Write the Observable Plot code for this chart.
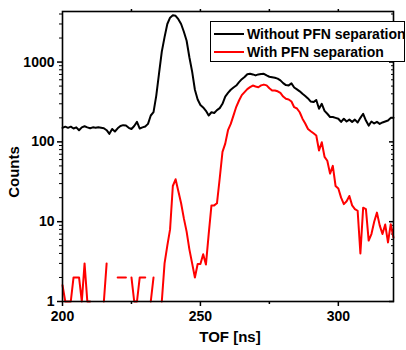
<!DOCTYPE html>
<html>
<head>
<meta charset="utf-8">
<script src="https://cdn.jsdelivr.net/npm/d3@7"></script>
<script src="https://cdn.jsdelivr.net/npm/@observablehq/plot@0.6"></script>
<style>
  html, body { margin: 0; padding: 0; background: #fff; }
  #wrap { position: relative; width: 406px; height: 350px; font-family: "Liberation Sans", Arial, sans-serif; }
  #legend { position: absolute; left: 210px; top: 21px; width: 193px; height: 39px; border: 1px solid #000; background: #fff; font-weight: bold; font-size: 14px; color: #000; }
  #legend .sw { position: absolute; left: 3px; width: 30px; height: 2px; }
  #legend .lb { position: absolute; left: 36px; line-height: 16px; white-space: nowrap; }
  .title { position: absolute; font-weight: bold; font-size: 15px; line-height: 15px; color: #000; white-space: nowrap; }
</style>
</head>
<body>
<div id="wrap"></div>
<script>
// TOF grid (ns)
const tof = [200,201,202,203,204,205,206,207,208,209,210,211,212,213,214,215,216,217,218,219,
220,221,222,223,224,225,226,227,228,229,230,231,232,233,234,235,236,237,238,239,
240,241,242,243,244,245,246,247,248,249,250,251,252,253,254,255,256,257,258,259,
260,261,262,263,264,265,266,267,268,269,270,271,272,273,274,275,276,277,278,279,
280,281,282,283,284,285,286,287,288,289,290,291,292,293,294,295,296,297,298,299,
300,301,302,303,304,305,306,307,308,309,310,311,312,313,314,315,316,317,318,319,320];

// Without PFN separation (black)
const withoutPFN = [150,155,150,155,147,152,140,152,157,152,148,152,150,152,150,148,140,126,145,135,
148,158,162,160,150,145,158,178,147,152,156,168,214,236,380,720,1350,2050,3000,3600,
3850,3800,3450,3000,2400,1850,1150,760,450,340,290,270,245,214,235,230,250,265,300,370,
410,450,480,508,560,610,650,705,715,700,680,700,710,713,680,655,645,635,620,590,
545,515,510,540,480,455,430,400,375,350,320,315,335,260,300,245,225,205,205,200,
195,178,195,180,190,178,190,175,200,225,185,160,180,170,178,168,175,180,185,200,200];

// With PFN separation (red); null = zero counts (gap on log axis)
const withPFN = [1.6,1,1,1,2,2,2,1,3,1,1,null,null,null,null,1,3,null,null,null,
2,2,2,2,null,2,1,1,2,2,2,null,1,2,null,null,1,3,5,8,
28,34,24,17,11,7.5,4.5,3,2,2.95,2.95,3.9,2.9,7,16,16,17,35,75,95,
140,168,215,275,330,385,420,458,485,508,495,484,510,522,510,470,440,440,430,410,
370,346,340,320,272,262,235,195,170,145,136,128,120,78,99,65,58,40,50,28,
26,20,16.6,18,21,16,14.4,13.7,4,15,14.4,5.8,7,10,13,9,7,9.2,5.5,9.3,6.3];

const yMajor = [1, 10, 100, 1000];
const yMinor = [2,3,4,5,6,7,8,9,20,30,40,50,60,70,80,90,200,300,400,500,600,700,800,900,2000,3000,4000];
const xMajor = [200, 250, 300];
const xMinor = [225, 275];
const xTop = [225, 250, 275, 300];

const seriesNames = ["Without PFN separation", "With PFN separation"];
const seriesColors = ["#000000", "#ff0000"];
const xTitle = "TOF [ns]";
const yTitle = "Counts";

const blackData = tof.map((t, i) => ({t, v: withoutPFN[i] == null ? NaN : withoutPFN[i]}));
const redData = tof.map((t, i) => ({t, v: withPFN[i] == null ? NaN : withPFN[i]}));

const none = () => "";

const chart = Plot.plot({
  width: 406,
  height: 350,
  marginLeft: 62,
  marginRight: 13,
  marginTop: 11,
  marginBottom: 49,
  x: {domain: [200, 320]},
  y: {type: "log", domain: [1, 4300]},
  style: {fontFamily: "'Liberation Sans', Arial, sans-serif", fontWeight: "bold", fontSize: "14px", color: "#000", background: "#fff", overflow: "visible"},
  marks: [
    Plot.axisY(yMajor, {anchor: "left", tickSize: 5, tickPadding: 3, tickFormat: d => String(d), label: null, strokeWidth: 1.5}),
    Plot.axisY(yMinor, {anchor: "left", tickSize: 3, tickFormat: none, label: null}),
    Plot.axisY(yMajor, {anchor: "right", tickSize: 5, dx: -5, tickFormat: none, label: null, strokeWidth: 1.5}),
    Plot.axisY(yMinor, {anchor: "right", tickSize: 3, dx: -3, tickFormat: none, label: null}),
    Plot.axisX(xMajor, {anchor: "bottom", tickSize: 5, tickPadding: 5, tickFormat: d => String(d), label: null, strokeWidth: 1.5}),
    Plot.axisX(xMinor, {anchor: "bottom", tickSize: 3, tickFormat: none, label: null, strokeWidth: 1.5}),
    Plot.axisX(xTop, {anchor: "top", tickSize: 3, tickFormat: none, label: null, strokeWidth: 1.5}),
    Plot.line(blackData, {x: "t", y: "v", stroke: seriesColors[0], strokeWidth: 2}),
    Plot.line(redData, {x: "t", y: "v", stroke: seriesColors[1], strokeWidth: 2}),
    Plot.frame({stroke: "#000", strokeWidth: 1.6})
  ]
});

const wrap = document.getElementById("wrap");
wrap.appendChild(chart);

// Axis titles
const xt = document.createElement("div");
xt.className = "title";
xt.textContent = xTitle;
xt.style.left = "230px";
xt.style.top = "336px";
xt.style.transform = "translate(-50%, -50%)";
wrap.appendChild(xt);

const yt = document.createElement("div");
yt.className = "title";
yt.textContent = yTitle;
yt.style.left = "13px";
yt.style.top = "172px";
yt.style.transform = "translate(-50%, -50%) rotate(-90deg)";
wrap.appendChild(yt);

// Legend
const legend = document.createElement("div");
legend.id = "legend";
const rowY = [12, 30];
seriesNames.forEach((name, i) => {
  const sw = document.createElement("div");
  sw.className = "sw";
  sw.style.top = (rowY[i] - 1) + "px";
  sw.style.background = seriesColors[i];
  const lb = document.createElement("div");
  lb.className = "lb";
  lb.style.top = (rowY[i] - 8) + "px";
  lb.textContent = name;
  legend.appendChild(sw);
  legend.appendChild(lb);
});
wrap.appendChild(legend);
</script>
</body>
</html>
